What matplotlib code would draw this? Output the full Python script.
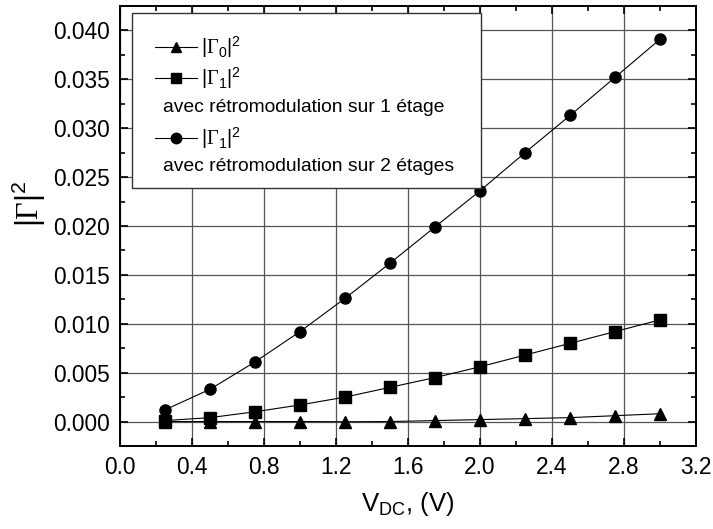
import numpy as np
import matplotlib
matplotlib.use("Agg")
import matplotlib.pyplot as plt
from matplotlib.lines import Line2D
from matplotlib.patches import Rectangle
from matplotlib.ticker import MultipleLocator

plt.rcParams["font.family"] = ["Liberation Sans", "DejaVu Sans"]
plt.rcParams["mathtext.fontset"] = "custom"
plt.rcParams["mathtext.rm"] = "Liberation Serif"
plt.rcParams["mathtext.default"] = "regular"

# data
v_dc = [0.25, 0.5, 0.75, 1.0, 1.25, 1.5, 1.75, 2.0, 2.25, 2.5, 2.75, 3.0]
gamma0 = [0.0000, 0.0000, 0.0000, 0.0000, -0.00002, 0.0000, 0.0001, 0.0002, 0.0003, 0.0004, 0.0006, 0.0008]
gamma1_1 = [0.0001, 0.0004, 0.0010, 0.0017, 0.0025, 0.0035, 0.0045, 0.0056, 0.0068, 0.0080, 0.0092, 0.0104]
gamma1_2 = [0.0012, 0.0033, 0.0061, 0.0092, 0.0126, 0.0162, 0.0199, 0.0236, 0.0275, 0.0313, 0.0352, 0.0391]

lab0 = r"|$\mathrm{\Gamma}_0$|$^2$"
lab1 = r"|$\mathrm{\Gamma}_1$|$^2$"
sub1 = "avec rétromodulation sur 1 étage"
sub2 = "avec rétromodulation sur 2 étages"

fig = plt.figure(figsize=(7.13, 5.29), dpi=100)
ax = fig.add_axes([0.1683, 0.1569, 0.8079, 0.8318])

ax.grid(True, which="major", color="#555555", linewidth=0.9)
ax.set_axisbelow(True)

kw = dict(color="black", linewidth=0.8, markersize=8)
ax.plot(v_dc, gamma0, marker="^", **kw)
ax.plot(v_dc, gamma1_1, marker="s", **kw)
ax.plot(v_dc, gamma1_2, marker="o", **kw)

ax.set_xlim(0.0, 3.2)
ax.set_ylim(-0.0025, 0.0425)
ax.xaxis.set_major_locator(MultipleLocator(0.4))
ax.xaxis.set_minor_locator(MultipleLocator(0.2))
ax.yaxis.set_major_locator(MultipleLocator(0.005))
ax.yaxis.set_minor_locator(MultipleLocator(0.0025))
ax.xaxis.set_major_formatter(plt.FuncFormatter(lambda v, p: f"{v:.1f}"))
ax.yaxis.set_major_formatter(plt.FuncFormatter(lambda v, p: f"{v:.3f}"))
ax.tick_params(which="both", direction="in", top=True, right=True, labelsize=16.4, width=1.2)
ax.tick_params(which="major", length=6, pad=7)
ax.tick_params(which="minor", length=3.5)
for s in ax.spines.values():
    s.set_linewidth(1.4)

ax.set_xlabel(r"V$_{DC}$, (V)", fontsize=18.5, labelpad=8)
ax.set_ylabel(r"|$\mathrm{\Gamma}$|$^2$", fontsize=22)
ax.yaxis.set_label_coords(-0.125, 0.55)

# legend box drawn by hand (two-line entries)
ax.add_patch(Rectangle((0.0208, 0.586), 0.606, 0.398, transform=ax.transAxes,
                       facecolor="white", edgecolor="#333333", linewidth=1.0, zorder=5))
rows = [(0.907, "^", lab0), (0.836, "s", lab1), (0.700, "o", lab1)]
for y, m, lab in rows:
    ax.add_line(Line2D([0.0608, 0.1337], [y, y], transform=ax.transAxes, color="black",
                       linewidth=0.8, zorder=6))
    ax.add_line(Line2D([0.0972], [y], transform=ax.transAxes, color="black", marker=m,
                       markersize=7.5, zorder=6))
    ax.text(0.141, y, lab, transform=ax.transAxes, fontsize=14.5, va="center", zorder=7)
ax.text(0.0747, 0.770, sub1, transform=ax.transAxes, fontsize=13.9, va="center", zorder=7)
ax.text(0.0747, 0.636, sub2, transform=ax.transAxes, fontsize=13.9, va="center", zorder=7)

fig.savefig("out.png", dpi=100)
